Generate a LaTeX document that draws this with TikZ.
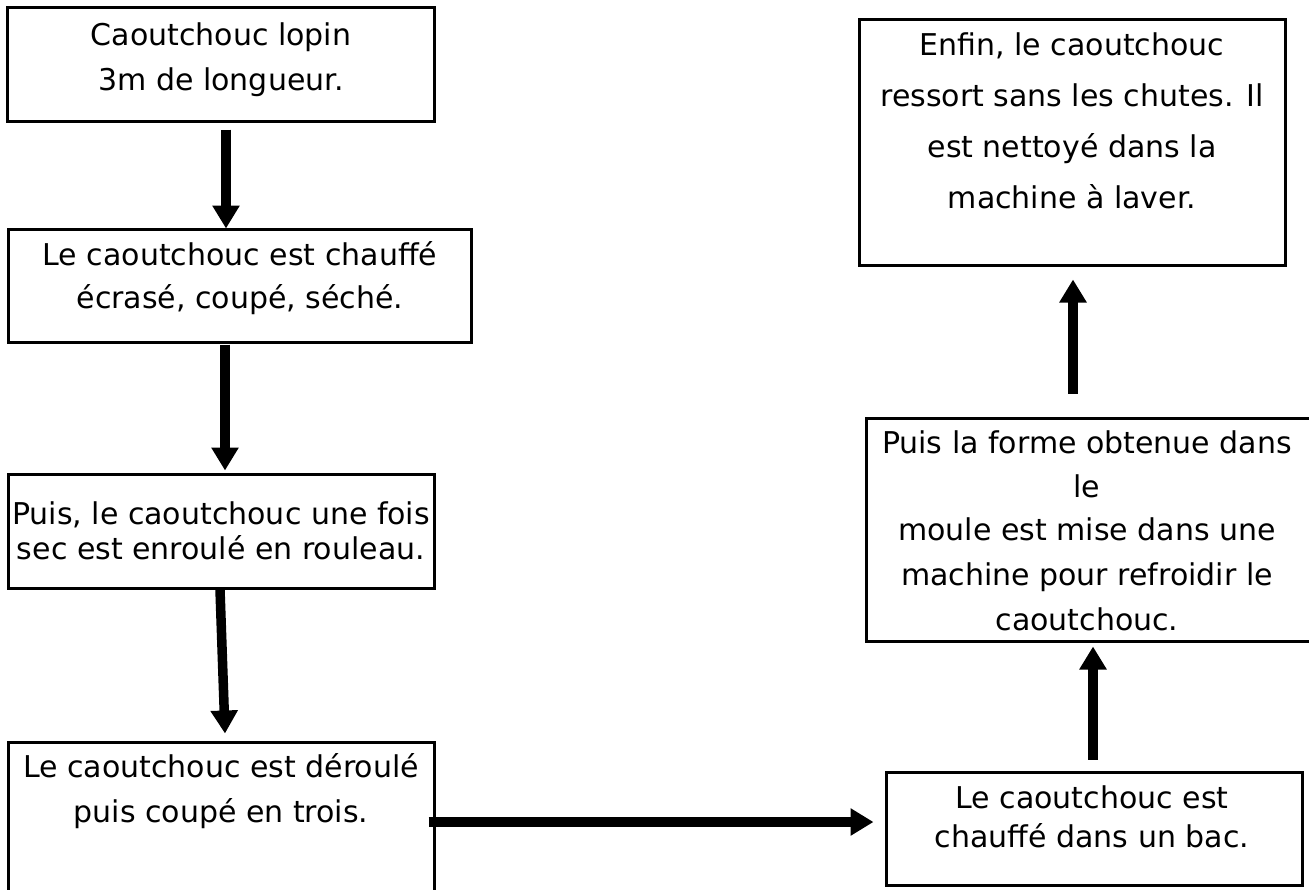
\documentclass[tikz,border=0pt]{standalone}
\usepackage{fontspec}
\setmainfont{DejaVu Sans}
\usetikzlibrary{arrows.meta,calc}
\begin{document}
\begin{tikzpicture}[x=1pt,y=-1pt,
  box/.style={draw, line width=3pt, inner sep=0pt, rectangle},
  txt/.style={anchor=base, inner sep=0pt, font=\fontsize{30}{36}\selectfont},
  flow/.style={line width=9.5pt, -{Triangle[width=26pt,length=23pt]}}]
\path[use as bounding box] (0,0) rectangle (1309,889);
\clip (0,0) rectangle (1309,889);
% boxes
\node[box, minimum width=427pt, minimum height=114pt] (b1) at (220.5,64) {};
\node[box, minimum width=463pt, minimum height=113pt] (b2) at (239.5,285.5) {};
\node[box, minimum width=426pt, minimum height=114pt] (b3) at (221,531) {};
\node[box, minimum width=426pt, minimum height=163pt] (b4) at (221,823.5) {};
\node[box, minimum width=416pt, minimum height=113pt] (b5) at (1094,828.5) {};
\node[box, minimum width=454pt, minimum height=223pt] (b6) at (1093,529.5) {};
\node[box, minimum width=426pt, minimum height=246pt] (b7) at (1072,142) {};
% texts
\node[txt] (t1a) at (221,45) {Caoutchouc lopin};
\node[txt] (t1b) at (221,90) {3m de longueur.};
\node[txt] (t2a) at (240,265) {Le caoutchouc est chauffé};
\node[txt] (t2b) at (240,308) {écrasé, coupé, séché.};
\node[txt] (t3a) at (221,524) {Puis, le caoutchouc une fois};
\node[txt] (t3b) at (221,559) {sec est enroulé en rouleau.};
\node[txt] (t4a) at (221,777) {Le caoutchouc est déroulé};
\node[txt] (t4b) at (221,822) {puis coupé en trois.};
\node[txt] (t5a) at (1092,808) {Le caoutchouc est};
\node[txt] (t5b) at (1092,847) {chauffé dans un bac.};
\node[txt] (t6a) at (1087,453) {Puis la forme obtenue dans};
\node[txt] (t6b) at (1087,497) {le};
\node[txt] (t6c) at (1087,540) {moule est mise dans une};
\node[txt] (t6d) at (1087,585) {machine pour refroidir le};
\node[txt] (t6e) at (1087,630) {caoutchouc.};
\node[txt] (t7a) at (1072,55) {Enfin, le caoutchouc};
\node[txt] (t7b) at (1072,106) {ressort sans les chutes. Il};
\node[txt] (t7c) at (1072,157) {est nettoyé dans la};
\node[txt] (t7d) at (1072,208) {machine à laver.};
% arrows
\draw[flow] ($(b1.south)+(5.5,7)$) -- ($(b2.north)+(-13.5,1)$);
\draw[flow] ($(b2.south)+(-14.5,1)$) -- ($(b3.north)+(4,-2)$);
\draw[flow] ($(b3.south)+(-1,0)$) -- ($(b4.north)+(4,-7)$);
\draw[flow] ($(b4.east)+(-7,-1.5)$) -- ($(b4.east -| b5.west)+(-11,-1.5)$);
\draw[flow] ($(b5.north)+(-1,-11)$) -- ($(b6.south)+(0,4)$);
\draw[flow] ($(b6.north)+(-20,-23)$) -- ($(b7.south)+(1,13)$);
\end{tikzpicture}
\end{document}
